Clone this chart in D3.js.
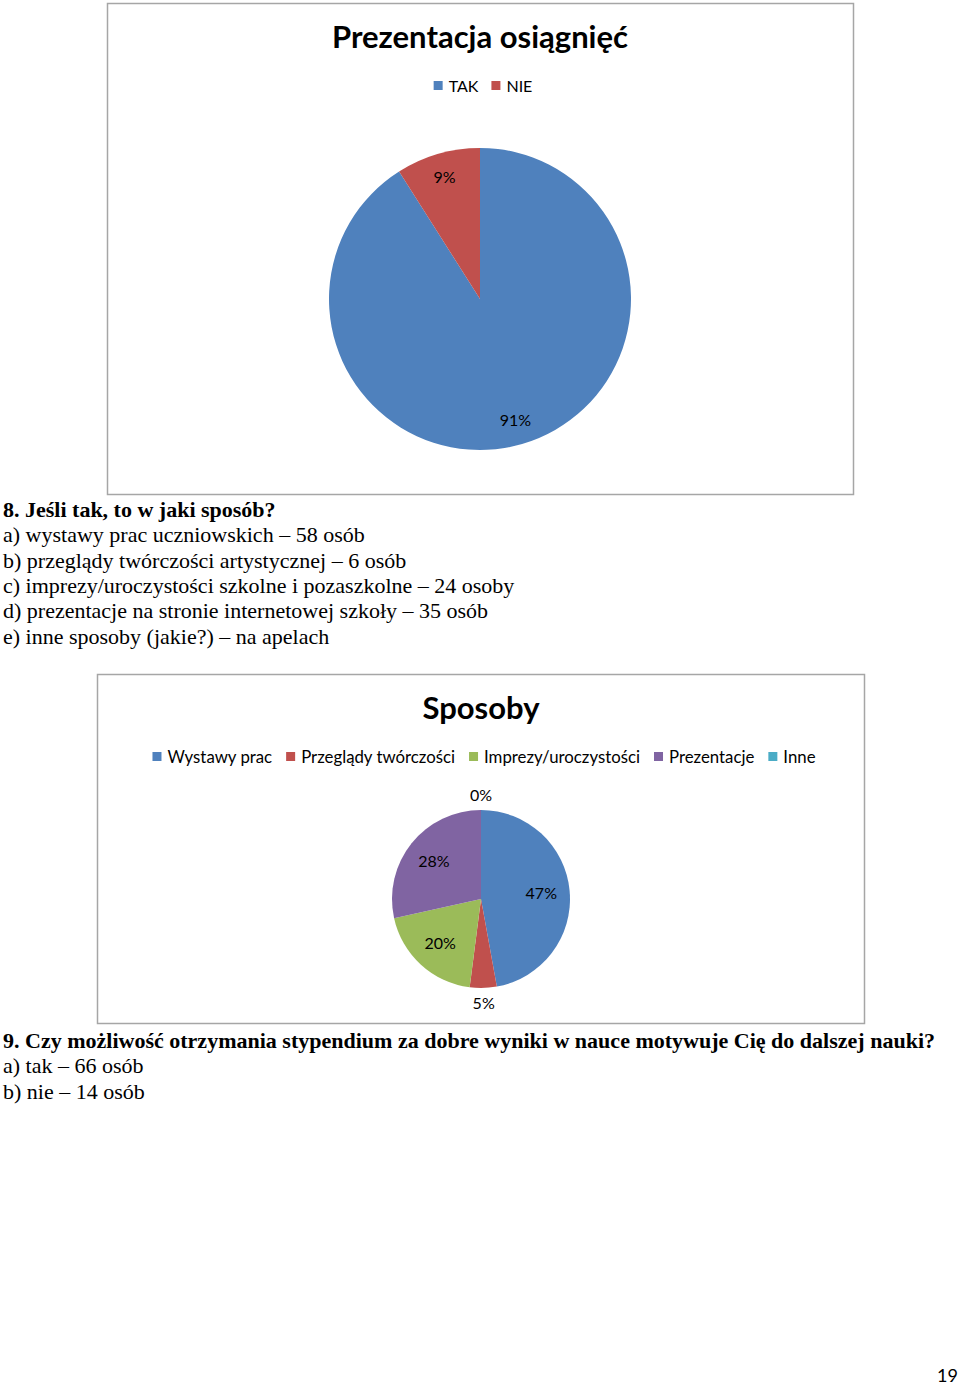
<!DOCTYPE html>
<html><head><meta charset="utf-8">
<script src="https://cdn.jsdelivr.net/npm/d3@7"></script>
<style>body{margin:0;background:#fff}svg{display:block}</style>
</head><body>
<script>
// Chart 1 data
const cat1 = ["TAK", "NIE"];
const val1 = [91, 9];
const lab1 = ["91%", "9%"];
const col1 = ["#4F81BD", "#C0504D"];
// Chart 2 data
const cat2 = ["Wystawy prac", "Przeglądy twórczości", "Imprezy/uroczystości", "Prezentacje", "Inne"];
const val2 = [58, 6, 24, 35, 0];
const lab2 = ["47%", "5%", "20%", "28%", "0%"];
const col2 = ["#4F81BD", "#C0504D", "#9BBB59", "#8064A2", "#4BACC6"];
const outside2 = [false, true, false, false, true];
// Text blocks
const q8 = "8. Jeśli tak, to w jaki sposób?";
const q8lines = ["a) wystawy prac uczniowskich – 58 osób",
  "b) przeglądy twórczości artystycznej – 6 osób",
  "c) imprezy/uroczystości szkolne i pozaszkolne – 24 osoby",
  "d) prezentacje na stronie internetowej szkoły – 35 osób",
  "e) inne sposoby (jakie?) – na apelach"];
const q9 = "9. Czy możliwość otrzymania stypendium za dobre wyniki w nauce motywuje Cię do dalszej nauki?";
const q9lines = ["a) tak – 66 osób", "b) nie – 14 osób"];

const W = 960, H = 1385;
const svg = d3.select("body").append("svg").attr("width", W).attr("height", H);
const sans = "Lato, 'Open Sans', sans-serif";
const serif = "'Liberation Serif', 'Times New Roman', serif";

function legend(g, cats, cols, cx, y, gap, fs) {
  const lg = g.append("g");
  let x = 0;
  cats.forEach((c, i) => {
    const it = lg.append("g").attr("transform", `translate(${x},0)`);
    it.append("rect").attr("x", 0).attr("y", -5).attr("width", 9).attr("height", 9).attr("fill", cols[i]);
    const t = it.append("text").attr("x", 15).attr("y", 0).attr("dy", "0.35em")
      .attr("font-family", sans).attr("font-size", fs).attr("fill", "#000").text(c);
    const w = t.node().getComputedTextLength();
    x += 15 + w + gap;
  });
  const total = x - gap;
  lg.attr("transform", `translate(${cx - total / 2},${y})`);
}

function pieChart(box, cats, vals, labs, cols, opts) {
  const g = svg.append("g");
  g.append("rect").attr("x", box.x + 0.5).attr("y", box.y + 0.5).attr("width", box.w).attr("height", box.h)
    .attr("fill", "#fff").attr("stroke", "#a6a6a6").attr("stroke-width", 1.5);
  g.append("text").attr("x", opts.tx).attr("y", opts.ty).attr("text-anchor", "middle")
    .attr("font-family", sans).attr("font-weight", "bold").attr("font-size", opts.tsize).text(opts.title);
  legend(g, cats, cols, opts.lx, opts.ly, opts.lgap, opts.lfs);
  const pie = d3.pie().sort(null).value(d => d);
  const arcs = pie(vals);
  const arc = d3.arc().innerRadius(0).outerRadius(opts.r);
  const pg = g.append("g").attr("transform", `translate(${opts.cx},${opts.cy})`);
  pg.selectAll("path").data(arcs).join("path").attr("d", arc).attr("fill", (d, i) => cols[i]);
  const inArc = d3.arc().innerRadius(opts.lin * opts.r).outerRadius(opts.lin * opts.r);
  const outArc = d3.arc().innerRadius(opts.r + opts.lout).outerRadius(opts.r + opts.lout);
  pg.selectAll("text.lab").data(arcs).join("text").attr("class", "lab")
    .attr("transform", (d, i) => {
      const c = (opts.outside && opts.outside[i]) ? outArc.centroid(d) : inArc.centroid(d);
      return `translate(${c[0]},${c[1]})`;
    })
    .attr("text-anchor", "middle").attr("dy", "0.35em")
    .attr("font-family", sans).attr("font-size", 16).attr("fill", "#000")
    .text((d, i) => labs[i]);
}

pieChart({x: 107, y: 3, w: 746, h: 491}, cat1, val1, lab1, col1, {
  title: "Prezentacja osiągnięć", tx: 480, ty: 48, tsize: 31,
  lx: 483, ly: 86, lgap: 13, lfs: 16,
  cx: 480, cy: 299, r: 151, lin: 0.84, lout: 15
});
pieChart({x: 97, y: 674, w: 767, h: 349}, cat2, val2, lab2, col2, {
  title: "Sposoby", tx: 481, ty: 719, tsize: 31,
  lx: 484, ly: 757, lgap: 14, lfs: 16.8,
  cx: 481, cy: 899, r: 89, lin: 0.68, lout: 15, outside: outside2
});

// Text blocks
function textBlock(title, lines, y0, step, titleLen) {
  const t = svg.append("text").attr("x", 3).attr("y", y0).attr("font-family", serif)
    .attr("font-weight", "bold").attr("font-size", 22).text(title);
  if (titleLen) t.attr("textLength", titleLen).attr("lengthAdjust", "spacingAndGlyphs");
  lines.forEach((l, i) => {
    svg.append("text").attr("x", 3).attr("y", y0 + step * (i + 1)).attr("font-family", serif)
      .attr("font-size", 22).text(l);
  });
}
textBlock(q8, q8lines, 517, 25.3);
textBlock(q9, q9lines, 1048, 25.3, 932);

svg.append("text").attr("x", 958).attr("y", 1382).attr("text-anchor", "end")
  .attr("font-family", sans).attr("font-size", 18).text("19");
</script>
</body></html>
